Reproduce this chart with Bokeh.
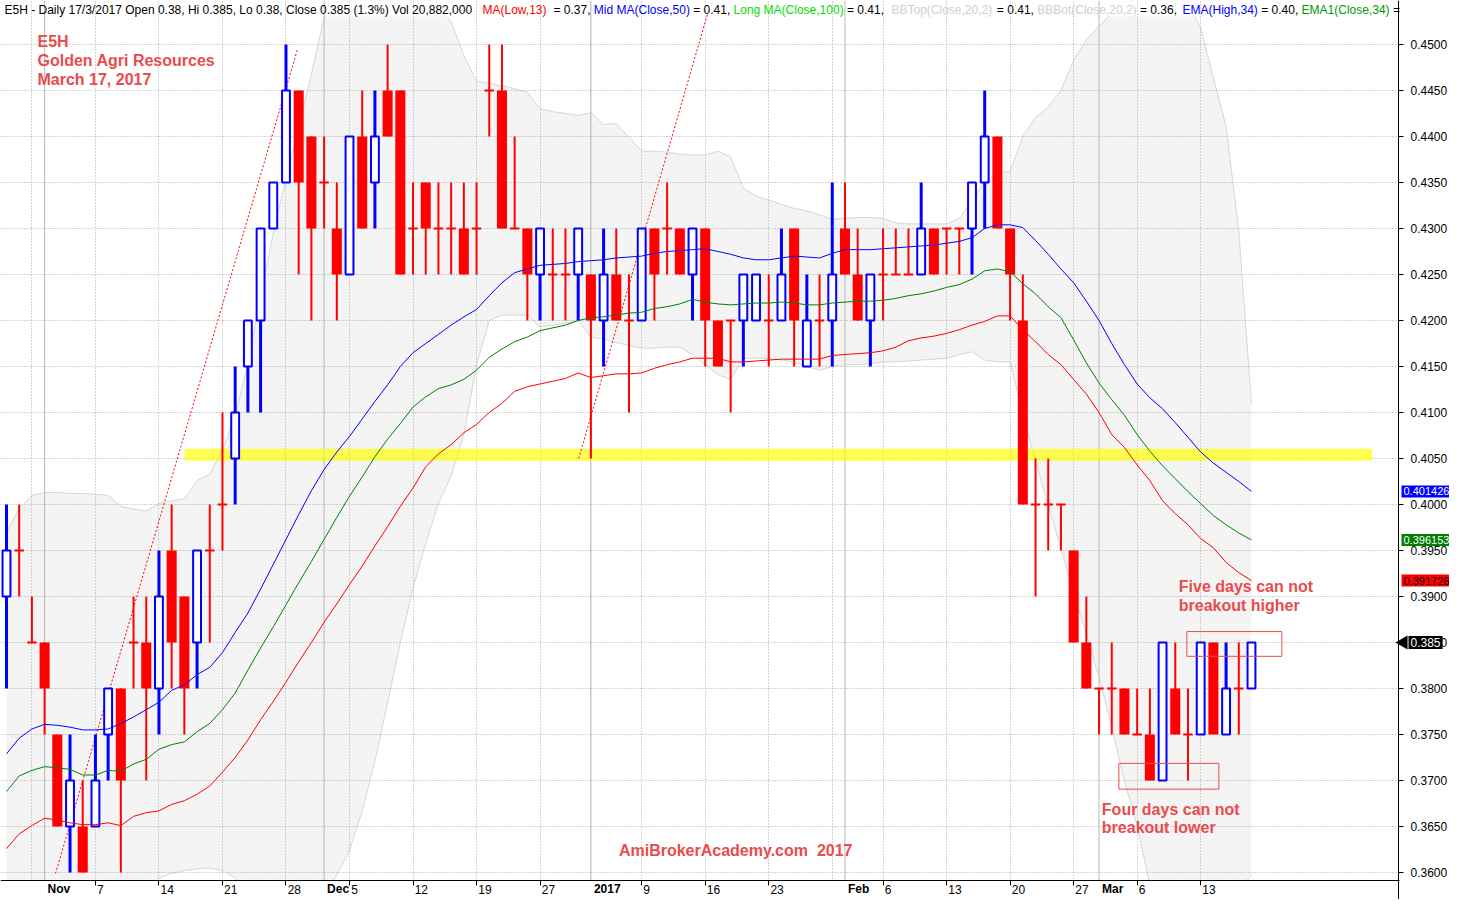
import math
from bokeh.plotting import figure
from bokeh.models import Range1d, FixedTicker, Label, Span, PrintfTickFormatter, BoxAnnotation
from bokeh.embed import file_html
from bokeh.resources import INLINE

# ---------------- data ----------------
opens = [0.390,0.395,0.385,0.385,0.375,0.365,0.365,0.365,0.375,0.380,
         0.385,0.385,0.380,0.395,0.390,0.385,0.395,0.400,0.405,0.415,
         0.420,0.430,0.435,0.445,0.440,0.435,0.430,0.425,0.440,0.435,
         0.445,0.445,0.430,0.435,0.430,0.430,0.430,0.430,0.445,0.445,
         0.430,0.430,0.425,0.425,0.425,0.425,0.425,0.420,0.425,0.420,
         0.420,0.430,0.430,0.430,0.425,0.430,0.420,0.420,0.420,0.420,
         0.420,0.420,0.430,0.415,0.420,0.420,0.430,0.425,0.420,0.425,
         0.425,0.425,0.425,0.430,0.430,0.430,0.430,0.435,0.440,0.430,
         0.420,0.400,0.400,0.400,0.395,0.385,0.380,0.380,0.380,0.375,
         0.375,0.370,0.380,0.375,0.375,0.385,0.375,0.380,0.380]
highs = [0.400,0.400,0.390,0.385,0.375,0.375,0.370,0.375,0.380,0.380,
         0.390,0.390,0.395,0.400,0.390,0.395,0.400,0.410,0.415,0.420,
         0.430,0.435,0.450,0.445,0.440,0.440,0.435,0.440,0.445,0.445,
         0.450,0.445,0.435,0.435,0.435,0.435,0.435,0.435,0.450,0.450,
         0.440,0.430,0.430,0.430,0.430,0.430,0.425,0.430,0.430,0.425,
         0.430,0.430,0.435,0.430,0.430,0.430,0.420,0.420,0.425,0.425,
         0.425,0.430,0.430,0.425,0.425,0.435,0.435,0.430,0.425,0.430,
         0.430,0.430,0.435,0.430,0.430,0.430,0.435,0.445,0.440,0.430,
         0.425,0.405,0.405,0.400,0.395,0.390,0.380,0.385,0.380,0.380,
         0.380,0.385,0.385,0.380,0.385,0.385,0.385,0.385,0.385]
lows = [0.380,0.390,0.385,0.375,0.365,0.360,0.360,0.365,0.370,0.360,
        0.380,0.370,0.375,0.380,0.375,0.380,0.385,0.395,0.400,0.410,
        0.410,0.430,0.435,0.425,0.420,0.430,0.420,0.425,0.430,0.430,
        0.440,0.425,0.425,0.425,0.425,0.425,0.425,0.425,0.440,0.430,
        0.430,0.420,0.420,0.420,0.420,0.420,0.405,0.415,0.420,0.410,
        0.420,0.420,0.425,0.425,0.420,0.415,0.415,0.410,0.415,0.420,
        0.415,0.420,0.415,0.415,0.415,0.415,0.425,0.420,0.415,0.420,
        0.425,0.425,0.425,0.425,0.425,0.425,0.425,0.430,0.430,0.420,
        0.400,0.390,0.395,0.395,0.385,0.380,0.375,0.375,0.375,0.375,
        0.370,0.370,0.375,0.370,0.375,0.375,0.375,0.375,0.380]
closes = [0.395,0.395,0.385,0.380,0.365,0.370,0.360,0.370,0.380,0.370,
          0.385,0.380,0.390,0.385,0.380,0.395,0.395,0.400,0.410,0.420,
          0.430,0.435,0.445,0.435,0.430,0.435,0.425,0.440,0.430,0.440,
          0.440,0.425,0.430,0.430,0.430,0.430,0.425,0.430,0.445,0.430,
          0.430,0.425,0.430,0.425,0.425,0.430,0.420,0.425,0.420,0.420,
          0.430,0.425,0.430,0.425,0.430,0.420,0.415,0.420,0.425,0.425,
          0.420,0.425,0.420,0.420,0.420,0.425,0.425,0.420,0.425,0.425,
          0.425,0.425,0.430,0.425,0.430,0.430,0.435,0.440,0.430,0.425,
          0.400,0.400,0.400,0.400,0.385,0.380,0.380,0.380,0.375,0.375,
          0.370,0.385,0.375,0.375,0.385,0.375,0.380,0.380,0.385]

ema_high_34 = [0.3729,0.3746,0.3756,0.3761,0.3760,0.3758,0.3755,0.3755,0.3756,0.3762,
               0.3769,0.3777,0.3785,0.3798,0.3804,0.3815,0.3823,0.3839,0.3861,0.3882,
               0.3908,0.3935,0.3962,0.3989,0.4015,0.4038,0.4057,0.4074,0.4093,0.4112,
               0.4130,0.4150,0.4165,0.4175,0.4185,0.4195,0.4204,0.4212,0.4227,0.4241,
               0.4252,0.4256,0.4260,0.4261,0.4262,0.4264,0.4265,0.4266,0.4268,0.4269,
               0.4270,0.4273,0.4275,0.4276,0.4277,0.4278,0.4275,0.4272,0.4268,0.4266,
               0.4266,0.4268,0.4270,0.4269,0.4268,0.4273,0.4277,0.4277,0.4277,0.4278,
               0.4279,0.4280,0.4281,0.4282,0.4284,0.4286,0.4290,0.4300,0.4304,0.4304,
               0.4301,0.4287,0.4272,0.4256,0.4241,0.4221,0.4200,0.4175,0.4152,0.4131,
               0.4116,0.4104,0.4089,0.4073,0.4057,0.4045,0.4035,0.4025,0.401426]
ema_close_34 = [0.3688,0.3705,0.3711,0.3715,0.3714,0.3712,0.3706,0.3706,0.3711,0.3710,
                0.3718,0.3723,0.3734,0.3739,0.3742,0.3753,0.3762,0.3777,0.3795,0.3820,
                0.3844,0.3867,0.3891,0.3915,0.3938,0.3962,0.3986,0.4009,0.4030,0.4052,
                0.4071,0.4088,0.4106,0.4117,0.4126,0.4130,0.4136,0.4146,0.4160,0.4169,
                0.4177,0.4182,0.4189,0.4192,0.4195,0.4200,0.4203,0.4204,0.4206,0.4208,
                0.4209,0.4213,0.4215,0.4218,0.4223,0.4220,0.4218,0.4217,0.4218,0.4219,
                0.4219,0.4220,0.4219,0.4217,0.4217,0.4219,0.4220,0.4221,0.4221,0.4222,
                0.4224,0.4227,0.4229,0.4232,0.4236,0.4239,0.4245,0.4254,0.4256,0.4253,
                0.4240,0.4229,0.4215,0.4203,0.4179,0.4154,0.4132,0.4114,0.4097,0.4076,
                0.4058,0.4042,0.4028,0.4014,0.4001,0.3988,0.3978,0.3969,0.396153]
ema_low_34 = [0.3626,0.3642,0.3651,0.3659,0.3657,0.3654,0.3652,0.3652,0.3654,0.3651,
              0.3661,0.3665,0.3667,0.3674,0.3678,0.3685,0.3694,0.3709,0.3725,0.3744,
              0.3766,0.3786,0.3807,0.3829,0.3850,0.3872,0.3892,0.3913,0.3933,0.3955,
              0.3976,0.3998,0.4018,0.4041,0.4055,0.4065,0.4078,0.4087,0.4100,0.4110,
              0.4123,0.4128,0.4131,0.4134,0.4137,0.4143,0.4138,0.4140,0.4142,0.4142,
              0.4143,0.4148,0.4152,0.4155,0.4159,0.4159,0.4159,0.4155,0.4155,0.4156,
              0.4157,0.4158,0.4158,0.4158,0.4158,0.4162,0.4163,0.4164,0.4165,0.4167,
              0.4171,0.4178,0.4181,0.4183,0.4186,0.4190,0.4195,0.4199,0.4205,0.4205,
              0.4190,0.4177,0.4163,0.4152,0.4136,0.4120,0.4100,0.4076,0.4062,0.4043,
              0.4026,0.4004,0.3990,0.3978,0.3963,0.3953,0.3937,0.3926,0.391726]
bb_top = [0.3969,0.3996,0.4010,0.4013,0.4013,0.4012,0.4012,0.4011,0.4010,0.3998,
          0.3995,0.3993,0.4001,0.4004,0.4006,0.4026,0.4033,0.4059,0.4096,0.4153,
          0.4225,0.4295,0.4354,0.4409,0.4468,0.4529,0.4545,0.4551,0.4556,0.4559,
          0.4561,0.4559,0.4556,0.4551,0.4542,0.4525,0.4488,0.4460,0.4458,0.4455,
          0.4452,0.4448,0.4430,0.4427,0.4425,0.4423,0.4426,0.4413,0.4414,0.4399,
          0.4384,0.4384,0.4383,0.4381,0.4380,0.4380,0.4384,0.4378,0.4344,0.4335,
          0.4331,0.4326,0.4322,0.4319,0.4315,0.4310,0.4311,0.4312,0.4312,0.4311,
          0.4306,0.4305,0.4305,0.4305,0.4305,0.4311,0.4330,0.4351,0.4361,0.4362,
          0.4400,0.4421,0.4432,0.4450,0.4483,0.4505,0.4520,0.4534,0.4545,0.4551,
          0.4554,0.4554,0.4551,0.4545,0.4518,0.4464,0.4411,0.4297,0.4109]
bb_bot = [0.3516,0.3521,0.3527,0.3532,0.3532,0.3527,0.3521,0.3521,0.3527,0.3538,
          0.3548,0.3575,0.3594,0.3599,0.3602,0.3604,0.3605,0.3602,0.3594,0.3581,
          0.3564,0.3543,0.3521,0.3527,0.3548,0.3575,0.3597,0.3624,0.3667,0.3721,
          0.3785,0.3850,0.3909,0.3958,0.4001,0.4031,0.4076,0.4152,0.4200,0.4206,
          0.4206,0.4206,0.4193,0.4195,0.4197,0.4200,0.4182,0.4180,0.4176,0.4173,
          0.4170,0.4170,0.4171,0.4171,0.4163,0.4152,0.4141,0.4136,0.4159,0.4159,
          0.4159,0.4157,0.4155,0.4150,0.4146,0.4150,0.4152,0.4152,0.4153,0.4155,
          0.4155,0.4156,0.4157,0.4158,0.4159,0.4163,0.4166,0.4157,0.4155,0.4155,
          0.4098,0.4047,0.3999,0.3952,0.3904,0.3859,0.3812,0.3758,0.3699,0.3651,
          0.3586,0.3548,0.3527,0.3516,0.3516,0.3527,0.3548,0.3581,0.3597]

week_grid_bars = [2, 7, 12, 17, 22, 27, 32, 37, 42, 46, 50, 55, 60, 65, 69, 74, 79, 84, 89, 94]
day_tick_bars = [7, 12, 17, 22, 27, 32, 37, 42, 50, 55, 60, 69, 74, 79, 84, 89, 94]
day_tick_labels = ["7", "14", "21", "28", "5", "12", "19", "27", "9", "16", "23",
                   "6", "13", "20", "27", "6", "13"]
month_bars = [3, 25, 46, 66, 86]
month_labels = ["Nov", "Dec", "2017", "Feb", "Mar"]
price_ticks = [0.360, 0.365, 0.370, 0.375, 0.380, 0.385, 0.390, 0.395, 0.400, 0.405,
               0.410, 0.415, 0.420, 0.425, 0.430, 0.435, 0.440, 0.445, 0.450]

support_level = 0.4054
support_span = [14.0, 107.5]
trend1_x, trend1_y = [3.86, 22.91], [0.3599, 0.4495]
trend2_x, trend2_y = [45.04, 55.2], [0.4050, 0.4534]
box_left = [87.56, 92.91]
box_right = [95.43, 100.39]
box_bottom = [0.36906, 0.38350]
box_top = [0.37186, 0.38619]
volume_text = "20,882,000"

# ---------------- layout ----------------
W, H = 1449, 899
K = 9200.0          # pixels per price unit
Y45_PX = 44         # pixel row of 0.4500
D = 12.704          # pixels per bar
X0_PX = 6           # pixel column of the first bar


def px_to_price(py):
    return 0.45 - (py - Y45_PX) / K


def px_to_bar(px):
    return (px - X0_PX) / D


X_START, X_END = px_to_bar(0), px_to_bar(W)
Y_TOP, Y_BOT = px_to_price(0), px_to_price(H)
AXIS_X_PX, AXIS_Y_PX = 1398, 880
AXIS_X, AXIS_Y = px_to_bar(AXIS_X_PX), px_to_price(AXIS_Y_PX)
CLIP_TOP = px_to_price(16)

TXT_RED = "#E84C4C"
FONT = "Liberation Sans"

p = figure(width=W, height=H, x_range=Range1d(X_START, X_END), y_range=Range1d(Y_BOT, Y_TOP),
           output_backend="svg", toolbar_location=None, y_axis_location="right",
           min_border_left=0, min_border_top=0, min_border_right=0, min_border_bottom=0,
           background_fill_color="white", border_fill_color="white", outline_line_color=None)

n = len(closes)
idx = list(range(n))

# Bollinger band
p.varea(x=idx, y1=bb_bot, y2=bb_top, fill_color="#F4F4F4", level="image")
p.line(idx, bb_top, line_color="#D6D6D6", line_width=1, level="image")
p.line(idx, bb_bot, line_color="#D6D6D6", line_width=1, level="image")
p.quad(left=X_START, right=X_END, bottom=CLIP_TOP, top=Y_TOP,
       fill_color="white", line_color=None, level="image")

for b in month_bars:
    p.add_layout(Span(location=b, dimension="height", line_color="#B8B8B8",
                      line_width=1, level="underlay"))

# grids
p.xgrid.ticker = FixedTicker(ticks=week_grid_bars)
p.ygrid.ticker = FixedTicker(ticks=price_ticks)
for g in (p.xgrid[0], p.ygrid[0]):
    g.grid_line_color = "#A8A8A8"
    g.grid_line_dash = "1 2"
    g.grid_line_width = 1

# white areas outside the price pane (right of the price axis, below the date axis)
p.add_layout(BoxAnnotation(left=AXIS_X, fill_color="white", fill_alpha=1.0,
                           line_color=None, level="underlay"))
p.add_layout(BoxAnnotation(top=AXIS_Y, fill_color="white", fill_alpha=1.0,
                           line_color=None, level="underlay"))

# support band
p.segment(x0=support_span[0], y0=support_level, x1=support_span[1], y1=support_level,
          line_color="#FFFF00", line_alpha=0.68, line_width=12)

# trend lines
p.line(trend1_x, trend1_y, line_color="#FF0000", line_dash="2 2", line_width=1)
p.line(trend2_x, trend2_y, line_color="#FF0000", line_dash="2 2", line_width=1)

# candles
up_i = [i for i in idx if closes[i] > opens[i]]
dn_i = [i for i in idx if closes[i] < opens[i]]
dj_i = [i for i in idx if closes[i] == opens[i]]
rd_i = [i for i in idx if closes[i] <= opens[i]]

p.segment(x0=up_i, x1=up_i, y0=[lows[i] for i in up_i], y1=[highs[i] for i in up_i],
          line_color="#0000FF", line_width=3)
p.segment(x0=rd_i, x1=rd_i, y0=[lows[i] for i in rd_i], y1=[highs[i] for i in rd_i],
          line_color="#FF0000", line_width=2)
p.vbar(x=dn_i, width=0.79, bottom=[closes[i] for i in dn_i], top=[opens[i] for i in dn_i],
       fill_color="#FF0000", line_color=None)
p.vbar(x=up_i, width=0.62, bottom=[opens[i] for i in up_i], top=[closes[i] for i in up_i],
       fill_color="white", line_color="#0000FF", line_width=2)
p.segment(x0=[i - 0.37 for i in dj_i], x1=[i + 0.37 for i in dj_i],
          y0=[closes[i] for i in dj_i], y1=[closes[i] for i in dj_i],
          line_color="#FF0000", line_width=2)

# moving averages
p.line(idx, ema_high_34, line_color="#0000FF", line_width=1)
p.line(idx, ema_close_34, line_color="#008000", line_width=1)
p.line(idx, ema_low_34, line_color="#FF0000", line_width=1)

# annotation boxes
p.quad(left=box_left, right=box_right, bottom=box_bottom, top=box_top,
       fill_color=None, line_color=TXT_RED, line_width=1)

# axes
xa = p.xaxis[0]
xa.fixed_location = AXIS_Y
xa.ticker = FixedTicker(ticks=day_tick_bars)
xa.major_label_overrides = {b: "\u00a0" * (2 * len(t) + 1) + t
                            for b, t in zip(day_tick_bars, day_tick_labels)}
ya = p.yaxis[0]
ya.fixed_location = AXIS_X
ya.ticker = FixedTicker(ticks=price_ticks)
ya.formatter = PrintfTickFormatter(format="%.4f")
for ax in (xa, ya):
    ax.axis_line_color = "black"
    ax.major_tick_line_color = "black"
    ax.major_tick_out = 5
    ax.major_tick_in = 0
    ax.minor_tick_line_color = None
    ax.major_label_text_font = FONT
    ax.major_label_text_font_size = "12px"
    ax.major_label_text_color = "black"
xa.major_label_standoff = -3
ya.major_label_standoff = 7

# hide the date-axis line to the right of the price axis
p.add_layout(BoxAnnotation(left=px_to_bar(AXIS_X_PX + 1), bottom=px_to_price(AXIS_Y_PX + 2),
                           top=px_to_price(AXIS_Y_PX - 2), fill_color="white", fill_alpha=1.0,
                           line_color=None, level="annotation"))

for b, t in zip(month_bars, month_labels):
    p.add_layout(Label(x=b, x_offset=3, y=px_to_price(AXIS_Y_PX + 8), text=t, text_font=FONT,
                       text_font_size="12px", text_font_style="bold", text_color="black",
                       text_baseline="middle", text_align="left"))

# header line
ARIAL = {' ': 278, '(': 333, ')': 333, ',': 278, '-': 333, '.': 278, '/': 278, '%': 889,
         '=': 584, 'A': 667, 'B': 667, 'C': 722, 'D': 722, 'E': 667, 'H': 722, 'L': 556,
         'M': 833, 'O': 778, 'P': 667, 'T': 611, 'V': 667, 'a': 556, 'b': 556, 'c': 500,
         'd': 556, 'e': 556, 'g': 556, 'h': 556, 'i': 222, 'k': 500, 'l': 222, 'm': 833,
         'n': 556, 'o': 556, 'p': 556, 'r': 333, 's': 500, 't': 278, 'u': 556, 'v': 500,
         'w': 722, 'y': 500}


def tw(s, px=12):
    return sum(ARIAL.get(ch, 556) for ch in s) * px / 1000.0


header = [
    (f"E5H - Daily 17/3/2017 Open {opens[-1]:g}, Hi {highs[-1]:g}, Lo {lows[-1]:g}, "
     f"Close {closes[-1]:g} (1.3%) Vol {volume_text}", "black", 4),
    ("MA(Low,13)", "#FF0000", 482), ("= 0.37,", "black", 553),
    ("Mid MA(Close,50)", "#0000FF", 589), ("= 0.41,", "black", 687),
    ("Long MA(Close,100)", "#00E000", 725), ("= 0.41,", "black", 841),
    ("BBTop(Close,20,2)", "#CFCFCF", 891), ("= 0.41,", "black", 992),
    ("BBBot(Close,20,2)", "#CFCFCF", 1030), ("= 0.36,", "black", 1135),
    ("EMA(High,34)", "#0000FF", 1182), ("= 0.40,", "black", 1253),
    ("EMA1(Close,34)", "#009900", 1290), ("=", "black", 1385),
]
prev_end = -10.0
for txt, col, hx in header:
    hx = max(hx, prev_end + tw(" "))
    p.add_layout(Label(x=hx, y=H - 9, x_units="screen", y_units="screen", text=txt,
                       text_font=FONT, text_font_size="12px", text_color=col,
                       text_baseline="middle", text_align="left"))
    prev_end = hx + tw(txt)

# red texts
for t, y in (("E5H", 0.45032), ("Golden Agri Resources", 0.44828), ("March 17, 2017", 0.44623)):
    p.add_layout(Label(x=2.44, y=y, text=t, text_font=FONT, text_font_size="16px",
                       text_font_style="bold", text_color=TXT_RED, text_baseline="middle"))
for t, x, y in (("Five days can not", 92.28, 0.39104), ("breakout higher", 92.28, 0.38900),
                ("Four days can not", 86.22, 0.36690), ("breakout lower", 86.22, 0.36485)):
    p.add_layout(Label(x=x, y=y, text=t, text_font=FONT, text_font_size="16px",
                       text_font_style="bold", text_color=TXT_RED, text_baseline="middle"))
p.add_layout(Label(x=57.4, y=0.36237, text="AmiBrokerAcademy.com \u00a02017", text_font=FONT,
                   text_font_size="16px", text_font_style="bold", text_color=TXT_RED,
                   text_baseline="middle", text_align="center"))

# value tags on the price axis
for val, bg, fg in ((ema_high_34[-1], "#0000FF", "white"), (ema_close_34[-1], "#008000", "white"),
                    (ema_low_34[-1], "#FF0000", "black")):
    p.add_layout(Label(x=px_to_bar(AXIS_X_PX + 3), y=val, text=f"{val:.6f}",
                       text_font=FONT, text_font_size="11px", text_color=fg, padding=2,
                       background_fill_color=bg, text_baseline="middle"))
p.scatter(x=[px_to_bar(AXIS_X_PX + 5)], y=[closes[-1]], marker="triangle", size=14,
          angle=math.pi / 2, fill_color="black", line_color=None)
p.add_layout(Label(x=px_to_bar(AXIS_X_PX + 10), y=closes[-1], text=f"{closes[-1]:g}",
                   text_font=FONT, text_font_size="12px", text_color="white", padding=2,
                   background_fill_color="black", text_baseline="middle"))

open("out.html", "w").write(file_html(p, INLINE, "E5H"))
